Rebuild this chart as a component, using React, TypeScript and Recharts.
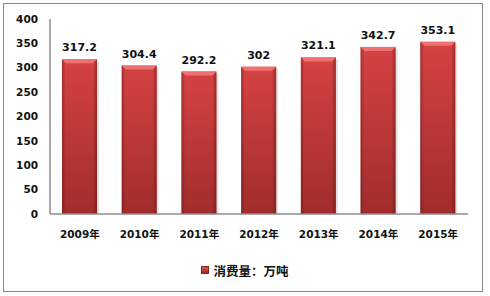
import React from "react";
import { Bar, BarChart, LabelList, Legend, XAxis, YAxis } from "recharts";

const years = ["2009年", "2010年", "2011年", "2012年", "2013年", "2014年", "2015年"];
const consumption = [317.2, 304.4, 292.2, 302, 321.1, 342.7, 353.1];
const yTicks = [0, 50, 100, 150, 200, 250, 300, 350, 400];

const SERIES_NAME = "消费量：万吨";
const AXIS_COLOR = "#8c8c8c";
const TEXT_COLOR = "#111";
const FONT = "'DejaVu Sans', 'Noto Sans CJK SC', sans-serif";

const data = years.map((year, i) => ({ year, value: consumption[i] }));

function BevelBar(props: any) {
  const { x, y, width, height } = props;
  if (!height || height <= 0) return null;
  const bevel = 4;
  return (
    <g>
      <rect x={x} y={y} width={width} height={height} fill="url(#barBody)" />
      <rect x={x} y={y} width={width} height={height} fill="url(#barSides)" />
      <polygon
        points={`${x},${y} ${x + width},${y} ${x + width - bevel},${y + bevel} ${x + bevel},${y + bevel}`}
        fill="#ee7070"
      />
      <rect x={x + width} y={y + 2} width={2} height={height - 2} fill="rgba(0,0,0,0.12)" />
    </g>
  );
}

function LegendContent() {
  return (
    <div
      style={{
        height: 16,
        display: "flex",
        alignItems: "center",
        justifyContent: "center",
        fontFamily: FONT,
        fontWeight: "bold",
        fontSize: 12.5,
        color: TEXT_COLOR,
      }}
    >
      <span
        style={{
          display: "inline-block",
          width: 8,
          height: 8,
          marginRight: 4,
          background: "linear-gradient(#e05050, #a02a2a)",
          border: "1px solid #8a2424",
          boxSizing: "border-box",
        }}
      />
      {SERIES_NAME}
    </div>
  );
}

export default function App() {
  return (
    <div style={{ position: "fixed", left: 0, top: 0, width: 490, height: 296, background: "#fff" }}>
      <div
        style={{
          position: "absolute",
          left: 3,
          top: 3,
          width: 478,
          height: 287,
          border: "1.5px solid #888",
        }}
      />
      <BarChart
        width={490}
        height={296}
        data={data}
        margin={{ top: 19, right: 22, left: 0, bottom: 36 }}
        barSize={35}
        style={{ position: "absolute", left: 0, top: 0 }}
      >
        <defs>
          <linearGradient id="barBody" x1="0" y1="0" x2="0" y2="1">
            <stop offset="0%" stopColor="#dc4545" />
            <stop offset="100%" stopColor="#a52e2e" />
          </linearGradient>
          <linearGradient id="barSides" x1="0" y1="0" x2="1" y2="0">
            <stop offset="0%" stopColor="#5a1010" stopOpacity={0.45} />
            <stop offset="10%" stopColor="#5a1010" stopOpacity={0.05} />
            <stop offset="88%" stopColor="#5a1010" stopOpacity={0.05} />
            <stop offset="100%" stopColor="#5a1010" stopOpacity={0.5} />
          </linearGradient>
        </defs>
        <XAxis
          dataKey="year"
          axisLine={{ stroke: AXIS_COLOR, strokeWidth: 1.5 }}
          tickLine={false}
          tickMargin={11}
          height={30}
          interval={0}
          tick={{ fontSize: 10.5, fontWeight: "bold", fill: TEXT_COLOR, fontFamily: FONT }}
        />
        <YAxis
          domain={[0, 400]}
          ticks={yTicks}
          interval={0}
          width={50}
          axisLine={{ stroke: AXIS_COLOR, strokeWidth: 1.5 }}
          tickLine={false}
          tickMargin={6}
          tick={{ fontSize: 10.5, fontWeight: "bold", fill: TEXT_COLOR, fontFamily: FONT }}
        />
        <Legend
          verticalAlign="bottom"
          content={<LegendContent />}
          wrapperStyle={{ position: "absolute", top: 262, left: 0, width: 490, bottom: "auto" }}
        />
        <Bar dataKey="value" name={SERIES_NAME} shape={<BevelBar />} isAnimationActive={false}>
          <LabelList
            dataKey="value"
            position="top"
            offset={8}
            style={{ fontSize: 11, fontWeight: "bold", fill: TEXT_COLOR, fontFamily: FONT }}
          />
        </Bar>
      </BarChart>
    </div>
  );
}
